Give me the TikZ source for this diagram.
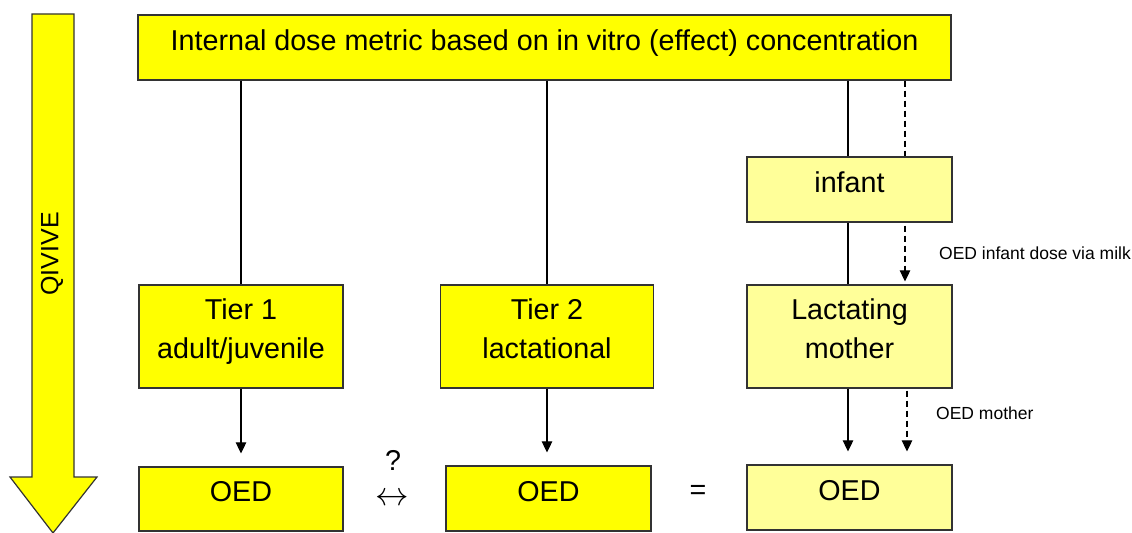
\documentclass[tikz,border=0pt]{standalone}
\usepackage{graphicx}
\usepackage{fontspec}
\setmainfont{Liberation Sans}
\usetikzlibrary{arrows.meta,positioning,calc}
\definecolor{jaune}{HTML}{FFFF00}
\definecolor{jaunepale}{HTML}{FFFF99}
\definecolor{bord}{HTML}{333333}
\newcommand{\grand}{\fontsize{28.7bp}{39bp}\selectfont}
\newcommand{\moyen}{\fontsize{25bp}{30bp}\selectfont}
\newcommand{\petit}{\fontsize{17.5bp}{21bp}\selectfont}

\begin{document}
\begin{tikzpicture}[x=1bp,y=-1bp,
    boite/.style={draw=bord,line width=1.2bp,fill=jaune,align=center,inner sep=0pt,text depth=15bp,font=\grand},
    pale/.style={boite,fill=jaunepale},
    etiquette/.style={font=\petit,inner sep=0pt,anchor=west},
    signe/.style={font=\grand,inner sep=0pt},
    trait/.style={line width=1.1bp},
    fleche/.style={-{Triangle[width=10.5bp,length=11bp]},line width=1.1bp},
    pointille/.style={dash pattern=on 6bp off 4bp,line width=1.1bp}]
    \useasboundingbox (0,0) rectangle (1132,533);
    % big QIVIVE arrow
    \draw[bord,line width=1.2bp,fill=jaune] (32,14) -- (74,14) -- (74,477) -- (97,477)
      -- (53,533) -- (10,477) -- (32,477) -- cycle;
    \node[font=\moyen,rotate=90,inner sep=0pt] (qivive) at (52,254) {QIVIVE};
    % boxes
    \node[boite,minimum width=813bp,minimum height=65bp] (dose) at (544.5,47.5)
      {Internal dose metric based on in vitro (effect) concentration};
    \node[boite,minimum width=204bp,minimum height=103bp] (tierA) at (241,336.5) {Tier 1\\adult/juvenile};
    \node[boite,minimum width=213bp,minimum height=103bp] (tierB) at (547,336.5) {Tier 2\\lactational};
    \node[pale,minimum width=205bp,minimum height=65bp] (infant) at (849.5,189.5) {infant};
    \node[pale,minimum width=205bp,minimum height=103bp] (mere) at (849.5,336.5) {Lactating\\mother};
    \node[boite,minimum width=204bp,minimum height=64bp] (oedA) at (241,499) {OED};
    \node[boite,minimum width=205bp,minimum height=65bp] (oedB) at (548.5,498.5) {OED};
    \node[pale,minimum width=205bp,minimum height=65bp] (oedC) at (849.5,497.5) {OED};
    % solid links
    \draw[trait] (tierA.north |- dose.south) -- (tierA.north);
    \draw[trait] (tierB.north |- dose.south) -- (tierB.north);
    \draw[trait] ([xshift=-1.5bp]infant.north |- dose.south) -- ([xshift=-1.5bp]infant.north);
    \draw[trait] ([xshift=-1.5bp]infant.south) -- ([xshift=-1.5bp]mere.north);
    \draw[fleche,shorten >=13bp] (tierA.south) -- (oedA.north);
    \draw[fleche,shorten >=13bp] (tierB.south) -- (tierB.south |- oedB.north);
    \draw[fleche,shorten >=13bp] ([xshift=-1.5bp]mere.south) -- ([xshift=-1.5bp]mere.south |- oedC.north);
    % dashed links
    \draw[pointille] ([xshift=55.5bp]infant.north |- dose.south) -- ([xshift=55.5bp]infant.north);
    \draw[pointille,fleche,shorten <=3bp,shorten >=3bp] ([xshift=55.5bp]infant.south) -- ([xshift=55.5bp]mere.north);
    \draw[pointille,fleche,shorten <=2bp,shorten >=13bp] ([xshift=57.5bp]mere.south) -- ([xshift=57.5bp]mere.south |- oedC.north);
    % labels
    \node[etiquette] (laitlab) at (939,253) {OED infant dose via milk};
    \node[etiquette] (merelab) at (936,413) {OED mother};
    \node[signe] (quest) at (393,460) {?};
    \node[signe] (equiv) at (392,499) {\scalebox{1.35}{$\leftrightarrow$}};
    \node[signe] (egal) at (698,492) {=};
\end{tikzpicture}
\end{document}
